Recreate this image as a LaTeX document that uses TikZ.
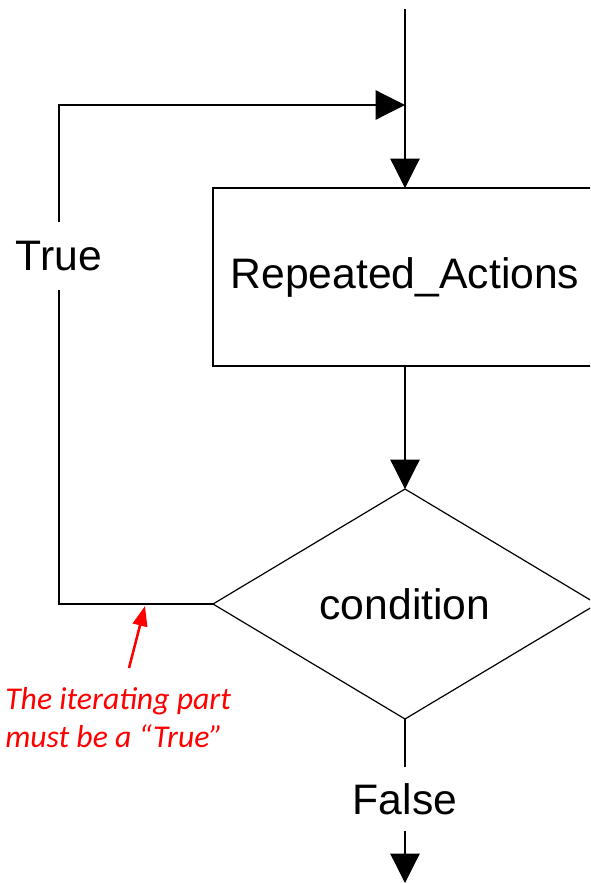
\documentclass[tikz,border=0pt]{standalone}
\usepackage{fontspec}
\setmainfont{Liberation Sans}
\newfontfamily\notefont{Carlito}
\usetikzlibrary{arrows.meta,shapes.geometric}
\begin{document}
\begin{tikzpicture}[x=0.75pt,y=-0.75pt,
  flow/.style={line width=0.9pt,draw=black},
  head/.style={-{Triangle[length=22pt,width=22pt]}},
  bigtext/.style={font=\fontsize{32}{36}\selectfont},
  procbox/.style={draw,line width=0.9pt,bigtext,minimum width=288pt,
    minimum height=133.5pt,inner sep=0pt,outer sep=0pt},
  decision/.style={draw,diamond,line width=0.9pt,bigtext,minimum width=288pt,
    minimum height=172.5pt,inner sep=0pt,outer sep=0pt},
  branch/.style={bigtext,inner sep=0pt,outer sep=0pt},
  notetext/.style={text=red,font=\notefont\itshape\fontsize{23.8}{28}\selectfont,
    inner sep=0pt,anchor=base west},
  notearrow/.style={draw=red,line width=1.9pt,
    -{Triangle[length=15pt,width=11pt]}}
]
% page frame; the block on the right runs past it
\clip (0,0) rectangle (590,883);

% nodes
\node[procbox] (act) at (405,277) {Repeated\_Actions};
\node[decision] (cond) at (405,604) {condition};
\node[branch,minimum height=51pt] (true) at (59,256) {True};
\node[branch,minimum height=48pt] (false) at (405,799) {False};

\coordinate (entry) at (405,9);
\coordinate (join) at (405,105);
\coordinate (loopbot) at (59,604);
\coordinate (looptop) at (59,105);
\coordinate (exit) at (405,883);

% main flow
\draw[flow,head] (entry) -- (act.north);
\draw[flow,head] (act.south) -- (cond.north);
\draw[flow] (cond.south) -- (false.north);
\draw[flow,head] (false.south) -- (exit);

% loop back on True
\draw[flow] (cond.west) -- (loopbot) -- (true.south);
\draw[flow,head] (true.north) -- (looptop) -- (join);

% annotation
\coordinate (notetail) at (129,668);
\coordinate (notetip) at (145,606);
\draw[notearrow] (notetail) -- (notetip);
\node[notetext] (note1) at (5,709) {The iterating part};
\node[notetext] (note2) at (5,747) {must be a “True”};
\end{tikzpicture}
\end{document}
